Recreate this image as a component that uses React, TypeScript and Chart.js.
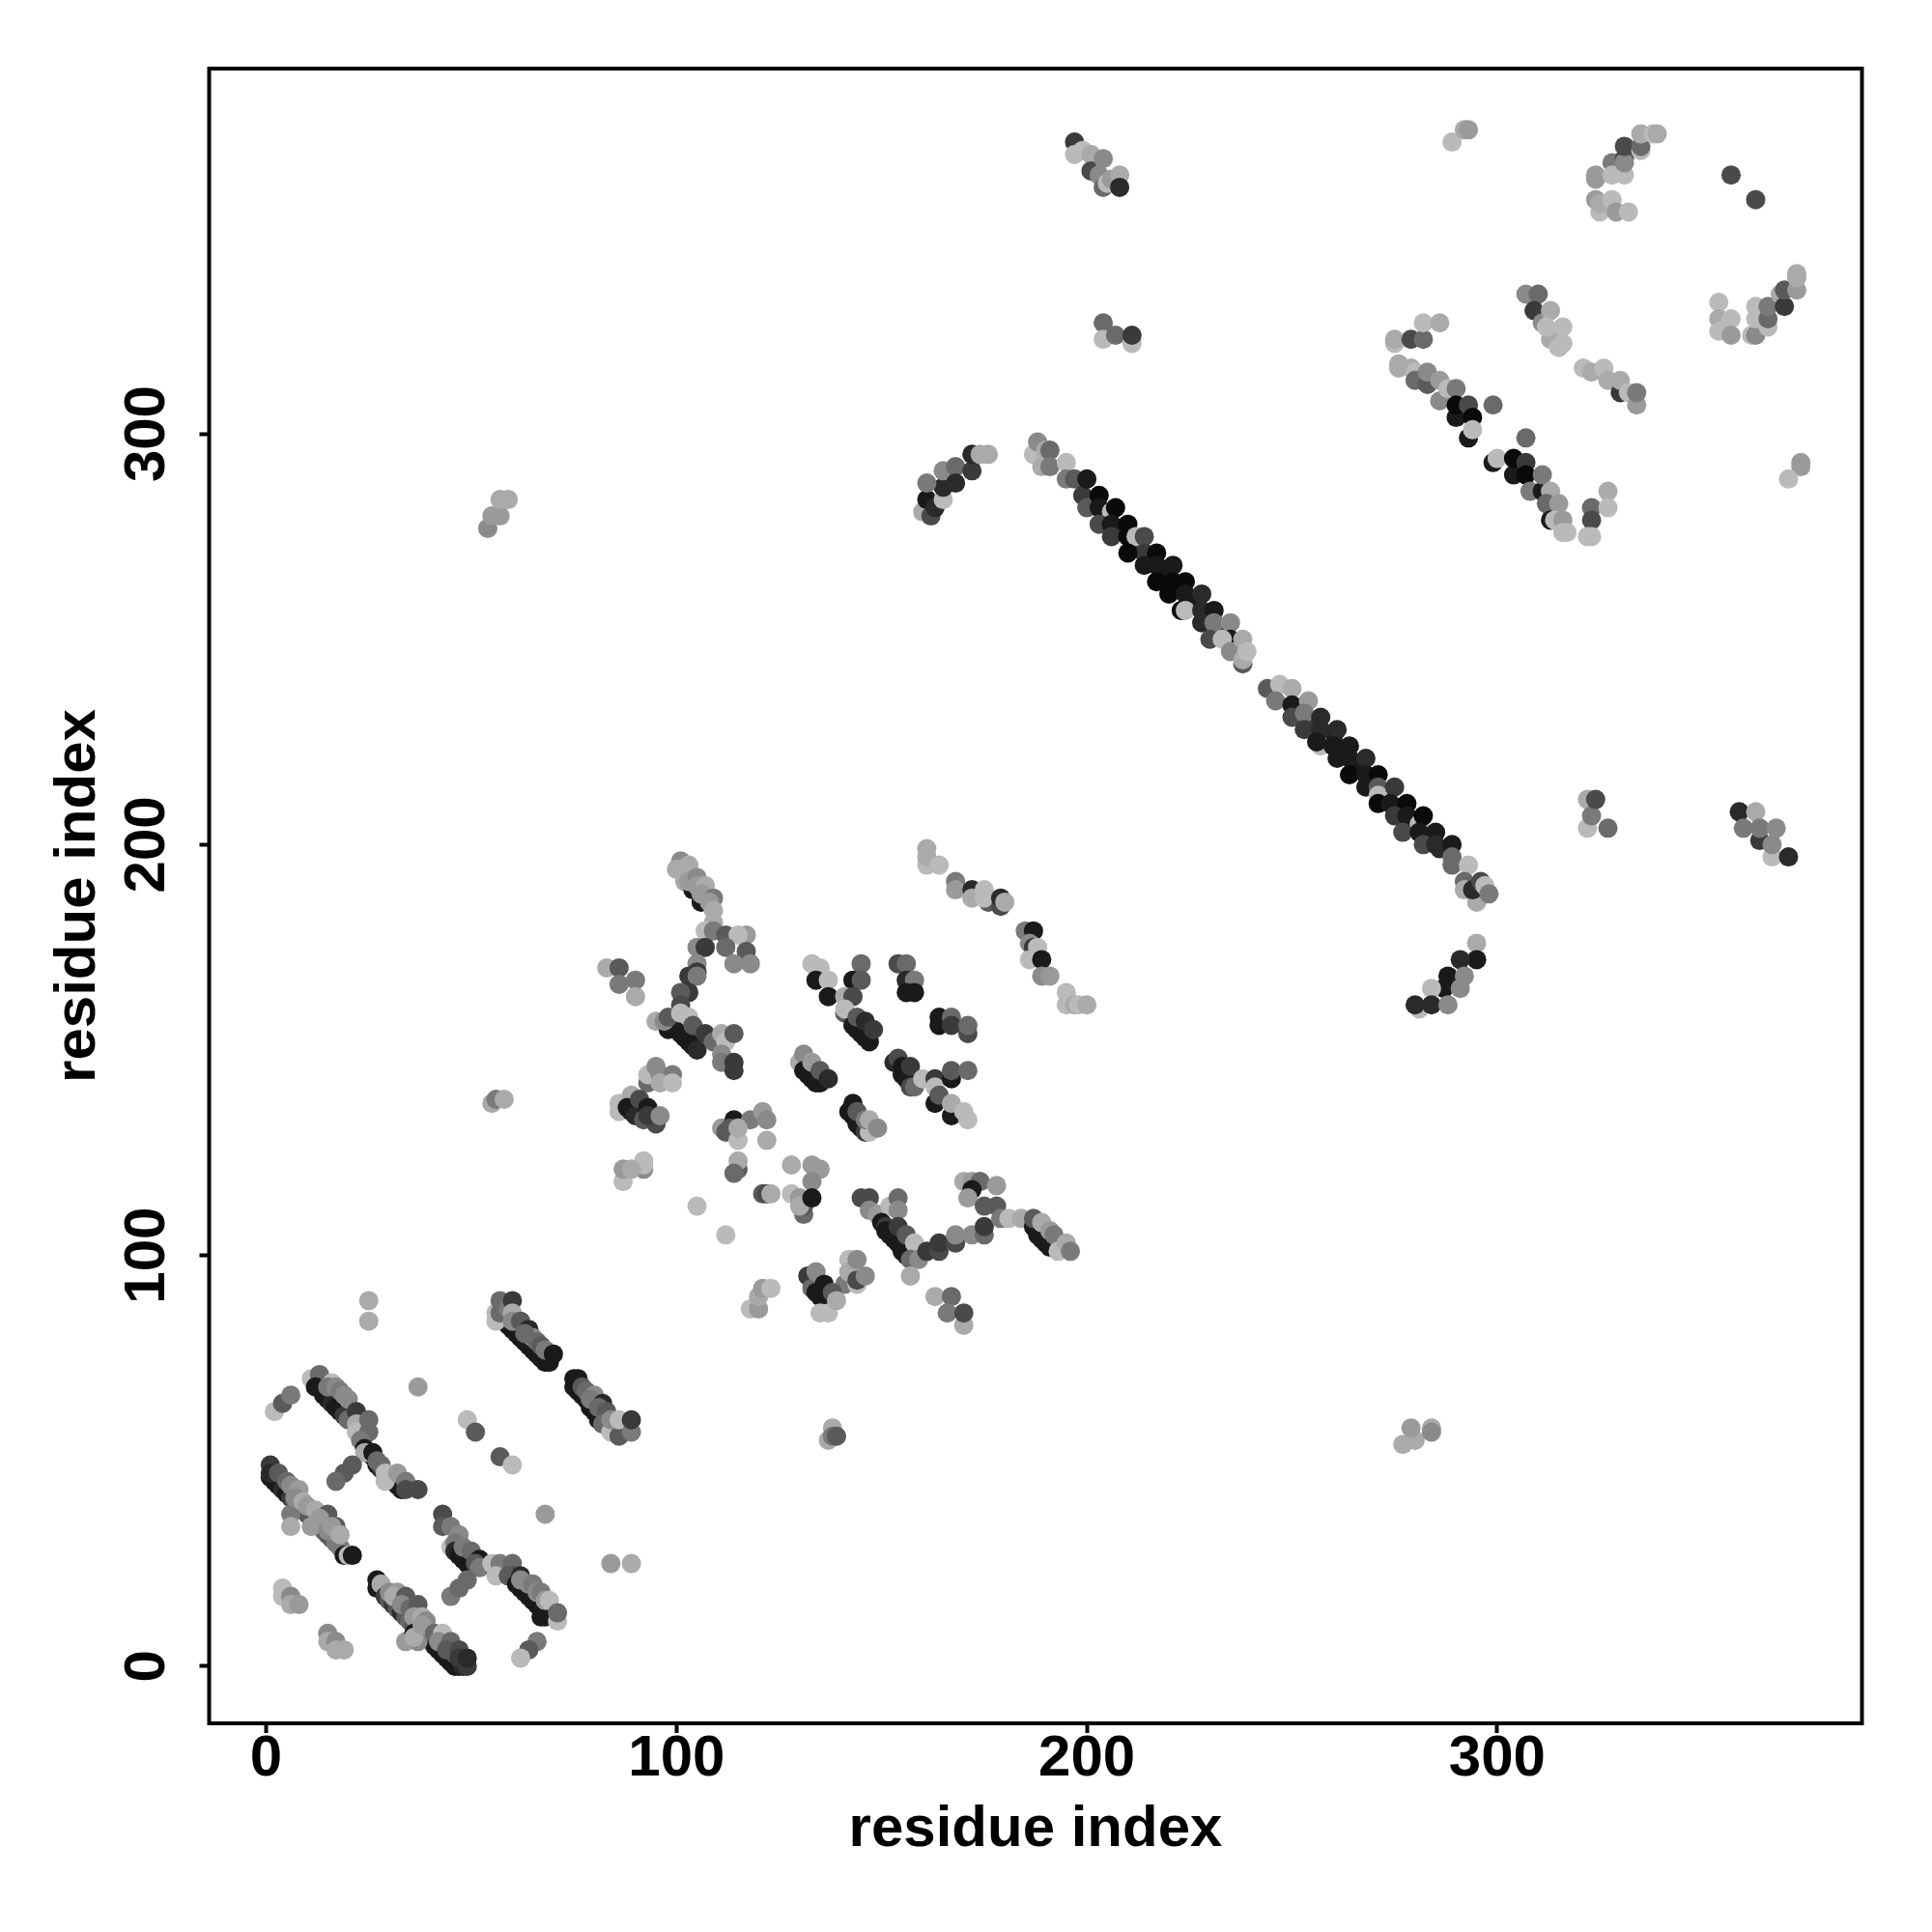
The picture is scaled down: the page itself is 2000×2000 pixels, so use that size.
import React, { useEffect, useRef } from "react";
import { Chart, registerables } from "chart.js";

Chart.register(...registerables);

// Each point: [residue x, residue y, shade], shade 0 (black) ... 11 (light grey)
type P = [number, number, number];

const tickValues = [0, 100, 200, 300];
const axisLabel = "residue index";
const axisMin = -13.9;
const axisMax = 388.9;

const bottomBandA: P[] = [
  [27,21,1],[27,19,1],[28,20,10],[29,17,3],[30,16,5],[31,15,3],[32,14,5],[33,13,2],[34,12,5],[35,11,6],[36,10,5],[37,8,1],[38,8,7],[39,7,3],[40,7,1],[41,5,1],[42,4,1],[43,3,1],[44,2,1],[45,1,1],[46,0,1],[47,0,1],[48,0,2],[49,0,3],
  [30,18,8],[32,18,9],[31,17,10],[34,17,5],[33,15,8],[35,14,6],[37,15,5],[36,12,9],[38,12,10],[34,6,9],[37,6,8],[36,8,1],[36,7,10],[39,11,8],[38,10,9],[41,8,6],[43,8,11],[42,6,8],[45,6,6],[44,4,5],[46,3,5],[47,4,4],[47,2,3],[49,2,2],
];
const bottomBandB: P[] = [
  [45,29,11],[43,37,4],[43,34,5],[45,34,7],[47,32,8],[46,30,7],[46,28,2],[47,27,1],[48,26,1],[49,25,1],[50,24,1],[48,29,7],[50,28,6],[52,26,1],[51,25,5],[52,24,7],
  [45,17,7],[47,19,6],[49,21,6],[55,25,11],[57,25,7],[56,22,11],[60,25,6],[60,22,4],[59,22,5],[62,22,2],[61,20,1],[62,19,1],[63,18,1],[64,17,1],[65,16,1],[66,15,1],[67,14,1],[67,12,1],[68,12,1],[62,21,8],[64,20,8],[65,20,7],[66,18,8],[67,18,7],[68,16,9],[69,16,11],[71,11,11],[71,13,6],
  [66,6,7],[64,4,5],[62,2,11],
];
const bottomBandC: P[] = [
  [4,19,11],[4,17,11],[6,17,8],[6,15,10],[8,15,9],[15,8,8],[15,6,10],[17,6,8],[17,4,10],[19,4,10],
];
const lowerLeftBand: P[] = [
  [1,46,1],[2,45,1],[3,44,1],[4,43,2],[5,42,1],[6,41,3],[7,40,5],[8,39,3],[9,38,7],[10,37,5],[11,36,5],[12,35,3],[13,34,5],[14,33,6],[15,32,5],[16,31,5],[17,30,7],[18,29,7],[19,27,1],[6,37,7],[6,34,10],
  [1,49,3],[1,47,2],[3,47,5],[5,45,6],[6,44,8],[8,43,9],[7,41,8],[9,40,10],[10,39,9],[12,38,10],[11,34,9],[14,36,8],[15,37,5],[13,36,9],[17,34,5],[15,33,8],[16,34,9],[18,32,10],[20,27,11],[21,27,1],
];
const isolatedLower: P[] = [
  [25,89,10],[25,84,10],[37,68,9],[49,60,11],[51,57,5],[57,51,5],[60,49,11],[68,37,9],[84,25,9],[89,25,10],[2,62,11],[4,64,5],[6,66,7],
];
const upperBandA: P[] = [
  [13,68,1],[14,66,1],[15,65,1],[16,64,2],[17,63,1],[18,62,1],[19,61,3],[20,60,6],[11,70,11],[13,71,6],[12,68,1],[16,69,11],[15,68,7],[17,68,8],[18,67,7],[19,66,8],[20,65,8],[22,62,3],[22,59,10],[22,57,11],[25,60,6],[25,57,6],[23,55,7],[24,53,1],[25,52,1],[26,51,1],[27,49,1],[28,48,2],[29,47,1],[30,46,2],[31,45,1],[32,44,1],[33,43,1],
  [24,52,10],[26,52,1],[27,50,6],[28,49,6],[29,45,11],[29,47,11],[32,47,9],[34,45,7],[34,43,4],[37,43,4],[21,49,5],[19,47,5],[17,45,6],
];
const upperBandB: P[] = [
  [58,84,1],[59,83,1],[60,82,1],[61,81,1],[62,80,1],[63,79,1],[64,78,1],[65,77,1],[66,76,1],[67,75,1],[68,74,1],[69,74,1],
  [56,86,11],[56,84,11],[57,89,6],[57,86,6],[59,87,7],[60,89,3],[60,86,10],[60,84,8],[62,84,5],[64,82,2],[65,80,8],[63,81,6],[66,79,6],[67,78,5],[68,77,7],[70,76,1],
];
const upperBandC: P[] = [
  [75,70,1],[75,68,1],[76,67,1],[77,66,1],[78,65,1],[79,63,1],[80,62,1],[81,60,1],[82,59,1],[76,70,1],[77,68,5],[78,67,6],[80,66,8],[79,65,7],[82,64,2],[81,63,6],[83,62,5],[82,59,6],[84,57,11],[86,56,5],[84,60,8],[86,60,11],[89,57,7],[89,60,3],
];
const centralLeft: P[] = [
  [101,196,8],[100,194,10],[103,195,10],[102,191,10],[104,189,1],[103,191,9],[105,192,8],[106,186,1],[105,190,9],[107,190,10],[106,188,9],[109,187,7],[108,186,9],[109,184,10],[109,181,10],[107,179,11],[109,179,7],[112,178,5],[117,178,9],[115,178,11],[112,175,6],[117,172,1],[117,174,5],[114,171,8],[118,171,8],
  [105,175,8],[107,175,3],[105,171,8],[105,169,3],[103,168,3],[105,168,7],[103,164,3],[101,164,5],[101,161,4],[95,157,10],[98,155,1],[99,156,1],[100,155,1],[101,154,1],[102,153,1],[103,152,1],[104,151,1],[105,150,2],[97,157,8],[98,158,5],[101,159,11],[103,158,11],[104,156,5],[107,154,3],[109,152,6],
  [111,154,10],[112,152,11],[114,154,5],[111,149,8],[111,147,7],[114,147,3],[114,145,3],
];
const centralWest: P[] = [
  [83,170,10],[86,170,5],[86,166,7],[90,167,7],[90,163,10],
  [93,142,6],[93,144,11],[95,146,8],[96,144,8],[99,144,7],[96,142,10],[99,142,11],
  [86,135,11],[86,137,11],[89,139,10],[88,136,1],[89,135,1],[90,134,2],[91,138,4],[92,133,5],[93,136,1],[95,132,4],[93,134,3],[96,134,8],
  [87,118,11],[87,121,9],[92,123,11],[92,121,8],[92,122,11],[89,121,10],
  [105,112,11],[112,105,11],
];
const centralSouthWest: P[] = [
  [115,121,5],[115,123,10],[114,120,6],[111,131,9],[112,130,5],[114,133,1],[113,131,5],[118,133,7],[121,135,9],[122,133,8],[115,128,11],[115,131,10],[122,128,10],
  [121,115,5],[122,115,4],[123,115,10],
  [128,122,10],[133,122,9],[135,121,9],[133,118,8],[131,110,6],[128,115,11],[130,114,9],[131,112,5],[130,112,10],[133,114,1],
];
const centralSouth: P[] = [
  [145,114,4],[147,114,4],[147,111,8],[149,110,9],[152,112,11],[154,114,6],[154,111,8],
  [150,108,1],[151,107,3],[151,106,1],[152,105,1],[153,104,1],[154,103,1],[155,102,1],[155,101,1],[156,100,1],[154,107,3],[156,105,5],[158,103,11],[157,99,6],[159,99,8],[161,101,3],[164,101,4],[164,103,3],[168,103,4],[168,105,8],[172,105,8],[175,105,6],[175,107,3],
  [170,118,10],[172,118,9],[174,118,6],[172,116,1],[178,117,9],[171,114,9],[175,112,5],[178,112,5],[179,109,7],[181,109,11],[184,109,10],
  [187,107,1],[188,105,1],[189,104,1],[190,103,1],[191,102,1],[187,109,5],[189,108,10],[191,106,9],[192,105,7],[193,101,11],[195,103,10],[196,101,7],
];
const centralLowerBand: P[] = [
  [157,95,10],[163,90,10],[167,90,6],[166,86,7],[170,83,10],[170,86,4],
  [141,93,7],[142,99,11],[142,96,10],[144,99,8],[144,93,11],[144,94,4],[146,95,8],
  [132,95,3],[133,92,6],[134,91,1],[135,90,1],[136,89,1],[134,96,8],[136,93,1],[135,86,11],[137,86,11],[138,91,5],[139,89,10],
  [118,87,11],[120,87,9],[120,90,10],[121,92,9],[123,92,11],
];
const centralMiddle: P[] = [
  [130,147,10],[131,149,8],[131,145,1],[132,144,1],[133,143,1],[134,142,1],[135,142,1],[133,147,9],[135,145,5],[137,143,2],
  [142,135,1],[143,137,1],[143,134,1],[144,132,1],[145,131,1],[146,130,3],[147,130,11],[144,135,5],[146,133,7],[147,133,10],[149,131,8],
  [153,147,2],[154,148,4],[155,144,1],[155,146,1],[156,143,1],[157,141,4],[157,146,3],[158,141,6],[160,143,11],[163,137,1],[167,134,1],[163,143,3],[163,141,11],[164,139,5],[167,143,1],[167,145,5],[171,145,6],[167,137,10],[170,135,11],[171,133,11],
];
const centralUpper: P[] = [
  [133,171,11],[135,170,11],[134,167,1],[137,167,11],[137,163,1],[145,171,6],[143,167,1],[145,167,5],[141,163,10],[143,163,4],[141,159,5],[141,160,11],[143,156,1],[144,155,1],[145,154,1],[146,153,1],[147,152,1],[144,158,5],[146,157,2],[148,155,3],
  [154,171,4],[156,171,6],[156,167,2],[158,167,7],[156,164,1],[158,164,1],
  [164,158,1],[164,156,1],[167,158,6],[167,156,3],[171,154,4],[171,156,6],
];
const centralNorthEast: P[] = [
  [168,191,7],[168,189,9],[172,189,2],[172,187,10],[175,189,11],[176,186,5],[175,187,11],[179,185,4],[179,187,2],[180,186,10],
  [161,195,11],[161,197,10],[161,199,10],[164,195,11],
  [185,179,7],[187,179,1],[186,176,8],[187,175,3],[188,175,11],[186,172,11],[189,172,1],[189,168,8],[191,168,9],
  [195,164,11],[195,161,11],[197,161,10],[198,161,11],[200,161,10],
];
const mainDiagonalCore: P[] = [
  [202,283,2],[205,280,1],[208,277,1],[211,274,1],[212,272,1],[215,270,1],[218,267,1],[220,265,1],[222,263,1],[226,259,1],[229,256,2],[232,253,2],
  [255,230,3],[259,226,2],[260,226,1],[262,223,1],[266,219,1],[267,218,1],[269,216,1],[273,212,1],[276,209,1],[280,205,1],[283,202,1],[286,199,2],
];
const mainDiagonalA: P[] = [
  [187,295,11],[188,298,8],[190,296,10],[189,292,10],[191,296,6],[191,292,7],[195,293,11],[195,289,7],[197,289,5],[199,285,3],[200,289,1],[200,282,5],[203,285,0],[203,282,1],[206,281,11],[207,282,0],[203,278,4],[206,278,1],[206,275,3],[210,278,0],[210,275,0],[212,275,11],[214,275,4],[214,271,3],[210,271,0],[217,271,0],[214,268,1],[217,268,1],[221,268,1],[217,264,0],[221,264,0],[224,264,0],[220,261,0],[224,261,1],[228,261,2],[223,257,0],[224,257,11],[228,257,2],[231,257,1],[228,254,2],[231,254,1],[231,254,7],[235,254,8],[230,250,4],[235,250,1],[233,250,11],[235,247,8],[238,244,5],[238,245,10],[238,250,10],[239,247,11],
];
const mainDiagonalB: P[] = [
  [244,238,5],[247,239,11],[246,235,7],[250,238,10],[250,234,1],[254,235,9],[250,231,4],[253,232,7],[257,231,2],[253,228,3],[257,228,2],[261,228,2],[257,224,11],[256,225,1],[260,224,1],[264,224,1],[261,221,1],[264,221,1],[268,221,2],[264,217,0],[268,217,1],[271,217,0],[268,214,1],[271,214,5],[271,212,11],[275,214,3],[271,210,0],[274,210,1],[278,210,0],[275,207,3],[278,207,1],[281,205,11],[282,207,0],[277,203,4],[281,203,1],[285,203,1],[282,200,4],[285,200,2],[289,200,1],[289,197,6],[289,195,6],[293,195,11],[292,191,6],[292,189,10],[295,186,10],[294,189,2],[296,191,4],[297,190,11],[298,188,7],
];
const loopArms: P[] = [
  [295,176,10],[295,172,1],[291,172,2],[288,168,1],[292,168,8],[287,165,1],[284,165,11],[291,165,8],[281,160,11],[280,161,2],[284,161,2],[288,161,8],
  [160,281,10],[162,280,4],[161,284,1],[163,282,2],[165,284,11],[165,287,2],[161,288,7],[165,291,8],[168,292,6],[168,288,2],[172,291,3],[172,295,2],[174,295,10],[176,295,10],
];
const topClusters: P[] = [
  [289,371,11],[292,374,10],[293,374,9],
  [324,362,9],[324,363,9],[328,366,7],[328,363,11],[331,363,11],[331,367,4],[331,366,8],[331,370,4],[335,369,11],[335,370,6],[335,373,10],[338,373,11],[339,373,10],
  [324,357,9],[325,354,11],[325,356,10],[328,357,11],[329,354,9],[332,354,11],
  [357,363,4],[363,357,4],
  [354,332,11],[354,328,10],[354,325,11],[357,328,11],[357,324,9],[362,324,11],[363,324,8],[363,331,11],[363,328,11],[366,326,11],[366,328,6],[366,331,7],[369,334,10],[370,331,3],[370,335,5],[373,335,9],[373,338,10],[373,339,10],
  [197,371,3],[197,368,11],[199,369,11],[201,368,10],[201,364,4],[204,367,8],[203,363,8],[204,360,6],[205,361,11],[206,362,9],[208,363,10],[208,360,2],
  [204,327,6],[204,323,11],[207,324,6],[211,322,11],[211,324,3],
];
const upperRightBands: P[] = [
  [307,334,8],[310,334,6],[309,330,3],[311,327,8],[313,330,10],[313,323,10],[312,326,11],[316,326,11],[316,322,11],[315,321,11],
  [321,316,11],[323,315,10],[326,316,11],[327,313,10],[330,310,3],[330,313,10],[332,310,11],[334,307,9],[334,310,7],
  [275,322,11],[275,323,10],[279,323,4],[282,323,6],[282,327,11],[286,327,10],
  [276,317,10],[276,316,10],[279,316,10],[280,315,11],[280,313,6],[283,312,5],[283,315,8],[286,313,9],[286,308,8],[288,311,11],[290,311,7],[290,304,1],[290,307,0],[293,307,4],[293,299,1],[294,304,0],[294,301,11],[299,307,6],[307,299,6],
  [299,293,1],[300,294,11],[304,290,1],[304,294,0],[307,293,3],[307,290,0],[308,286,7],[311,286,1],[311,290,7],[313,286,10],[312,283,6],[315,283,9],[313,279,1],[314,279,11],[316,279,9],[316,276,11],[317,276,11],
  [323,282,6],[323,279,4],[327,286,10],[327,282,11],[322,275,11],[323,275,11],
  [374,293,9],[374,292,9],[371,289,11],
];
const scatteredPairs: P[] = [
  [54,277,8],[55,280,9],[57,280,9],[57,284,10],[59,284,10],
  [55,137,10],[56,138,7],[58,138,10],
  [322,204,11],[322,211,10],[323,207,7],[324,211,4],[327,204,6],
  [359,208,2],[360,204,7],[363,208,10],[364,201,3],[364,204,7],[367,197,11],[367,200,8],[368,204,8],[371,197,2],
  [277,54,10],[280,55,10],[279,58,9],[284,58,10],[284,57,8],
  [138,58,10],[137,55,10],[138,56,7],[139,56,5],
];

const allPoints: P[] = [
  ...bottomBandA, ...bottomBandB, ...bottomBandC, ...lowerLeftBand, ...isolatedLower, ...upperBandA, ...upperBandB, ...upperBandC,
  ...centralLeft, ...centralWest, ...centralSouthWest, ...centralSouth, ...centralLowerBand, ...centralMiddle, ...centralUpper, ...centralNorthEast,
  ...mainDiagonalCore, ...mainDiagonalA, ...mainDiagonalB, ...loopArms, ...topClusters, ...upperRightBands, ...scatteredPairs,
];

const FONT = "'Liberation Sans', Arial, sans-serif";

const boxPlugin = {
  id: "box",
  afterDraw(chart: Chart) {
    const { ctx, chartArea: a } = chart;
    ctx.save();
    ctx.strokeStyle = "#000";
    ctx.lineWidth = 4;
    ctx.strokeRect(a.left, a.top, a.right - a.left, a.bottom - a.top);
    ctx.restore();
  },
};

function axis(size: (s: any) => void, extra: object) {
  return {
    type: "linear" as const,
    min: axisMin,
    max: axisMax,
    afterBuildTicks: (s: any) => {
      s.ticks = tickValues.map((value) => ({ value }));
    },
    afterFit: size,
    grid: { display: true, drawOnChartArea: false, drawTicks: true, tickLength: 10, tickWidth: 4, tickColor: "#000" },
    border: { display: false },
    ...extra,
  };
}

export default function App() {
  const ref = useRef<HTMLCanvasElement>(null);
  useEffect(() => {
    const chart = new Chart(ref.current!, {
      type: "scatter",
      data: {
        datasets: [
          {
            data: allPoints.map(([x, y]) => ({ x, y })),
            pointRadius: 10,
            pointBorderWidth: 0,
            pointBackgroundColor: allPoints.map(([, , s]) => {
              const v = 10 + s * 16;
              return `rgb(${v},${v},${v})`;
            }),
          },
        ],
      },
      options: {
        animation: false,
        responsive: false,
        devicePixelRatio: 1,
        layout: { padding: { top: 71, right: 72.5, left: 0, bottom: 0 } },
        plugins: { legend: { display: false }, tooltip: { enabled: false } },
        scales: {
          x: axis(
            (s) => {
              s.height = 216;
            },
            {
              ticks: { color: "#000", font: { family: FONT, size: 60, weight: "bold" }, padding: -9, maxRotation: 0, minRotation: 0 },
              title: { display: true, text: axisLabel, color: "#000", font: { family: FONT, size: 60, weight: "bold" }, padding: { top: 0, bottom: 70 } },
            },
          ),
          y: axis(
            (s) => {
              s.width = 216.5;
            },
            {
              ticks: { color: "#000", font: { family: FONT, size: 60, weight: "bold" }, padding: 3, maxRotation: 90, minRotation: 90, crossAlign: "center" },
              title: { display: true, text: axisLabel, color: "#000", font: { family: FONT, size: 60, weight: "bold" }, padding: { top: 45, bottom: 0 } },
            },
          ),
        },
      },
      plugins: [boxPlugin],
    } as any);
    return () => chart.destroy();
  }, []);
  return (
    <div style={{ position: "absolute", left: 0, top: 0, width: 2000, height: 2000, background: "#fff" }}>
      <canvas ref={ref} width={2000} height={2000} style={{ display: "block" }} />
    </div>
  );
}
